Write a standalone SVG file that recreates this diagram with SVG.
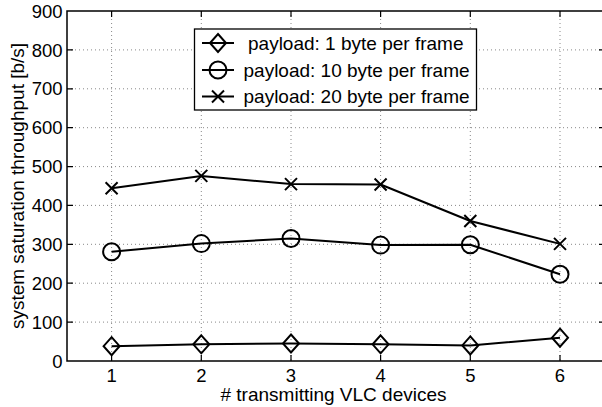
<svg xmlns="http://www.w3.org/2000/svg" width="602" height="407" viewBox="0 0 602 407">
<style>
.grid{stroke:#888;stroke-width:1;stroke-dasharray:1,3;fill:none}
.axis{stroke:#000;stroke-width:1.5;fill:none}
.tick{stroke:#000;stroke-width:1.2;fill:none}
.lbl{font-family:"Liberation Sans",Arial,sans-serif;font-size:18.5px;fill:#000}
.series{stroke:#000;stroke-width:2;fill:none;stroke-linejoin:round}
.mk{stroke:#000;stroke-width:2;fill:none}
.leg{font-family:"Liberation Sans",Arial,sans-serif;font-size:19px;fill:#000}
</style>
<defs>
<path id="dia" d="M0,-9 L8,0 L0,9 L-8,0 Z"/>
<circle id="cir" r="8.5"/>
<path id="crs" d="M-6,-6 L6,6 M-6,6 L6,-6"/>
</defs>
<rect width="602" height="407" fill="#fff"/>
<g id="grid">
<path class="grid" d="M67,322.1H605M67,283.2H605M67,244.3H605M67,205.4H605M67,166.6H605M67,127.7H605M67,88.8H605M67,49.9H605"/>
<path class="grid" d="M111.6,11V361M201.3,11V361M291,11V361M380.6,11V361M470.3,11V361M560,11V361"/>
</g>
<g id="axes">
<rect class="axis" x="67" y="11" width="538" height="350"/>
<path class="tick" d="M67,322.1h6M67,283.2h6M67,244.3h6M67,205.4h6M67,166.6h6M67,127.7h6M67,88.8h6M67,49.9h6"/>
<path class="tick" d="M605,322.1h-6M605,283.2h-6M605,244.3h-6M605,205.4h-6M605,166.6h-6M605,127.7h-6M605,88.8h-6M605,49.9h-6"/>
<path class="tick" d="M111.6,361v-6M201.3,361v-6M291,361v-6M380.6,361v-6M470.3,361v-6M560,361v-6"/>
<path class="tick" d="M111.6,11v6M201.3,11v6M291,11v6M380.6,11v6M470.3,11v6M560,11v6"/>
</g>
<g id="yticklabels" class="lbl" text-anchor="end">
<text x="62.5" y="367.6">0</text>
<text x="62.5" y="328.7">100</text>
<text x="62.5" y="289.8">200</text>
<text x="62.5" y="250.9">300</text>
<text x="62.5" y="212">400</text>
<text x="62.5" y="173.2">500</text>
<text x="62.5" y="134.3">600</text>
<text x="62.5" y="95.4">700</text>
<text x="62.5" y="56.5">800</text>
<text x="62.5" y="17.6">900</text>
</g>
<g id="xticklabels" class="lbl" text-anchor="middle">
<text x="111.6" y="382">1</text>
<text x="201.3" y="382">2</text>
<text x="291" y="382">3</text>
<text x="380.6" y="382">4</text>
<text x="470.3" y="382">5</text>
<text x="560" y="382">6</text>
</g>
<text id="xlabel" class="lbl" style="font-size:19px" x="333.5" y="401" text-anchor="middle"># transmitting VLC devices</text>
<text id="ylabel" class="lbl" style="font-size:19px" transform="translate(23.5,186) rotate(-90)" text-anchor="middle">system saturation throughput [b/s]</text>
<g id="connectors">
<polyline class="series" points="111.6,346.2 201.3,344.3 291,343.5 380.6,344.3 470.3,345.4 560,337.7"/>
<polyline class="series" points="111.6,251.7 201.3,243.6 291,238.5 380.6,245.1 470.3,244.7 560,274.3"/>
<polyline class="series" points="111.6,188.3 201.3,175.9 291,184.1 380.6,184.5 470.3,221 560,243.9"/>
</g>
<g id="series-1byte" class="mk">
<use href="#dia" x="111.6" y="346.2"/>
<use href="#dia" x="201.3" y="344.3"/>
<use href="#dia" x="291" y="343.5"/>
<use href="#dia" x="380.6" y="344.3"/>
<use href="#dia" x="470.3" y="345.4"/>
<use href="#dia" x="560" y="337.7"/>
</g>
<g id="series-10byte" class="mk">
<use href="#cir" x="111.6" y="251.7"/>
<use href="#cir" x="201.3" y="243.6"/>
<use href="#cir" x="291" y="238.5"/>
<use href="#cir" x="380.6" y="245.1"/>
<use href="#cir" x="470.3" y="244.7"/>
<use href="#cir" x="560" y="274.3"/>
</g>
<g id="series-20byte" class="mk">
<use href="#crs" x="111.6" y="188.3"/>
<use href="#crs" x="201.3" y="175.9"/>
<use href="#crs" x="291" y="184.1"/>
<use href="#crs" x="380.6" y="184.5"/>
<use href="#crs" x="470.3" y="221"/>
<use href="#crs" x="560" y="243.9"/>
</g>
<g id="legend">
<rect x="194.5" y="29" width="282" height="81" fill="#fff" stroke="#000" stroke-width="1.3"/>
<path class="series" d="M202,43H234M202,70H234M202,96.5H234"/>
<use class="mk" href="#dia" x="218" y="43"/>
<use class="mk" href="#cir" x="218" y="70"/>
<use class="mk" href="#crs" x="218" y="96.5"/>
<text class="leg" x="248" y="49.5">payload: 1 byte per frame</text>
<text class="leg" x="243.5" y="76.5">payload: 10 byte per frame</text>
<text class="leg" x="243.5" y="103">payload: 20 byte per frame</text>
</g>
</svg>
